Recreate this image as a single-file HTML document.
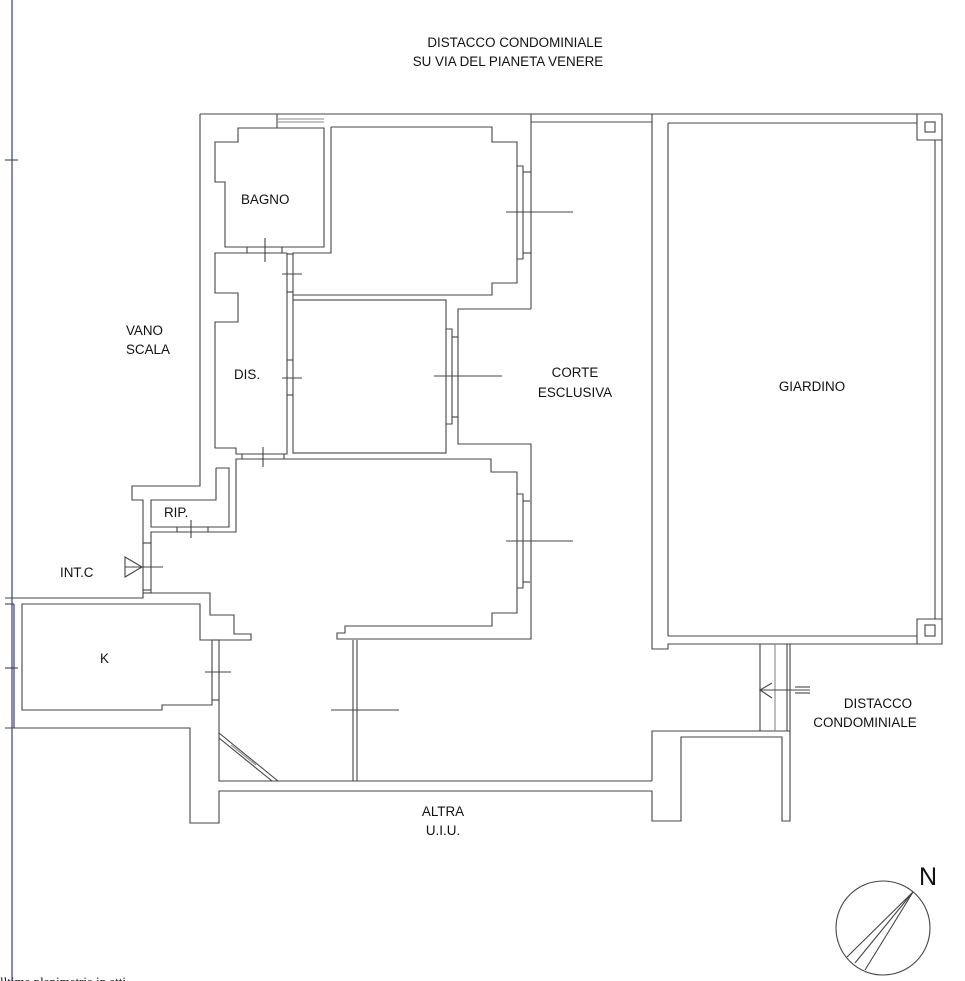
<!DOCTYPE html>
<html><head><meta charset="utf-8"><style>
html,body{margin:0;padding:0;background:#fff;}
svg{display:block;}
text{font-family:"Liberation Sans",sans-serif;font-size:13.4px;fill:#111;}
</style></head><body>
<svg width="965" height="981" viewBox="0 0 965 981" xmlns="http://www.w3.org/2000/svg">
<g fill="none" stroke="#444" stroke-width="1.1">
<line x1="12" y1="0" x2="12" y2="981" stroke="#8a8ab8" stroke-width="2"/>
<line x1="14" y1="604" x2="14" y2="728" stroke="#8a8ab8" stroke-width="2"/>
<line x1="5" y1="160" x2="18" y2="160"/>
<line x1="5" y1="668" x2="18" y2="668"/>
<line x1="5" y1="604" x2="14" y2="604"/>
<line x1="200" y1="114" x2="942" y2="114"/>
<line x1="531" y1="122" x2="652" y2="122" stroke="#888" stroke-width="1.5"/>
<polyline points="200,114 200,486 132,486 132,500 143,500 143,598 5,598"/>
<polygon points="238,128 324,128 324,247 225,247 225,182 215,182 215,142 238,142"/>
<line x1="277" y1="114" x2="277" y2="128"/>
<line x1="277" y1="119" x2="324" y2="119" stroke="#888"/>
<line x1="277" y1="122" x2="324" y2="122" stroke="#888"/>
<line x1="247" y1="247" x2="247" y2="253"/><line x1="282" y1="247" x2="282" y2="253"/>
<line x1="265" y1="238" x2="265" y2="262"/>
<polyline points="331,127 492,127 492,142 517,142 517,283 492,283 492,295 293,295 293,253 331,253 331,127"/>
<line x1="531" y1="114" x2="531" y2="309"/>
<polyline points="531,309 458,309 458,444 531,444 531,639 337,639 337,633 345,633 345,626 492,626 492,613 517,613 517,472 491,472 491,459 236,459 236,532 151,532 151,593 210,593 210,615 234,615 234,634 251,634 251,640 219,640 219,781 652,781"/>
<polyline points="517,166 523,166 523,259 517,259"/>
<line x1="523" y1="172" x2="531" y2="172"/><line x1="523" y1="253" x2="531" y2="253"/>
<line x1="506" y1="212" x2="573" y2="212"/>
<polyline points="287,253 215,253 215,293 238,293 238,322 215,322 215,448 236,448 236,454 287,454 287,253"/>
<line x1="293" y1="295" x2="293" y2="300"/>
<line x1="287" y1="254" x2="293" y2="254"/><line x1="287" y1="292" x2="293" y2="292"/>
<line x1="282" y1="274" x2="302" y2="274"/>
<line x1="287" y1="360" x2="293" y2="360"/><line x1="287" y1="395" x2="293" y2="395"/>
<line x1="282" y1="378" x2="302" y2="378"/>
<line x1="242" y1="454" x2="242" y2="459"/><line x1="284" y1="454" x2="284" y2="459"/>
<line x1="263" y1="447" x2="263" y2="467"/>
<rect x="293" y="300" width="153" height="153"/>
<polyline points="446,329 452,329 452,424 446,424"/>
<line x1="452" y1="337" x2="458" y2="337"/><line x1="452" y1="417" x2="458" y2="417"/>
<line x1="434" y1="376" x2="502" y2="376"/>
<polyline points="517,494 523,494 523,588 517,588"/>
<line x1="523" y1="501" x2="530" y2="501"/><line x1="523" y1="582" x2="530" y2="582"/>
<line x1="506" y1="541" x2="573" y2="541"/>
<polyline points="216,468 229,468 229,527 151,527 151,500 216,500 216,468"/>
<line x1="177" y1="527" x2="177" y2="532"/><line x1="208" y1="527" x2="208" y2="532"/>
<line x1="191" y1="520" x2="191" y2="538"/>
<line x1="143" y1="543" x2="151" y2="543"/><line x1="143" y1="590" x2="151" y2="590"/>
<polygon points="125,557 125,577 142,567"/>
<line x1="125" y1="567" x2="163" y2="567"/>
<line x1="143" y1="593" x2="151" y2="593"/>
<polygon points="22,604 200,604 200,640 212,640 212,705 162,705 162,710 22,710"/>
<line x1="212" y1="640" x2="219" y2="640"/><line x1="212" y1="700" x2="219" y2="700"/>
<line x1="205" y1="672" x2="231" y2="672"/>
<polyline points="5,728 190,728 190,823 219,823 219,791 652,791 652,821 681,821 681,737 782,737 782,821 790,821 790,731 652,731 652,781"/>
<line x1="219" y1="733" x2="278" y2="781"/>
<line x1="219" y1="738" x2="272" y2="781"/>
<line x1="231" y1="745" x2="256" y2="765" stroke="#888"/>
<line x1="353" y1="640" x2="353" y2="781"/><line x1="357" y1="640" x2="357" y2="781"/>
<line x1="331" y1="710" x2="399" y2="710"/>
<polyline points="652,114 652,649 668,649 668,644 942,644 942,114"/>
<polyline points="668,123 917,123"/><line x1="668" y1="123" x2="668" y2="636"/>
<line x1="668" y1="636" x2="917" y2="636"/>
<line x1="935" y1="140" x2="935" y2="619"/>
<polyline points="917,114 917,140 942,140"/>
<rect x="925" y="122" width="10" height="10"/>
<polyline points="917,644 917,619 942,619"/>
<rect x="925" y="625" width="10" height="11"/>
<line x1="760" y1="644" x2="760" y2="731"/>
<line x1="775" y1="644" x2="775" y2="731" stroke="#888"/>
<line x1="787" y1="644" x2="787" y2="731"/>
<line x1="790" y1="644" x2="790" y2="731"/>
<line x1="760" y1="690" x2="810" y2="690"/>
<polyline points="772,683 760,690 772,698"/>
<line x1="795" y1="687" x2="810" y2="687"/><line x1="795" y1="693" x2="810" y2="693"/>
<circle cx="883" cy="928" r="47"/>
<line x1="913" y1="892" x2="847" y2="957"/>
<line x1="913" y1="892" x2="855" y2="963"/>
<line x1="913" y1="892" x2="865" y2="970"/>
</g>
<text x="515" y="47" text-anchor="middle">DISTACCO CONDOMINIALE</text>
<text x="508" y="66" text-anchor="middle">SU VIA DEL PIANETA VENERE</text>
<text x="241" y="204">BAGNO</text>
<text x="126" y="335">VANO</text>
<text x="126" y="354">SCALA</text>
<text x="234" y="379">DIS.</text>
<text x="575" y="377" text-anchor="middle">CORTE</text>
<text x="575" y="397" text-anchor="middle">ESCLUSIVA</text>
<text x="812" y="391" text-anchor="middle">GIARDINO</text>
<text x="164" y="517">RIP.</text>
<text x="60" y="577">INT.C</text>
<text x="100" y="663">K</text>
<text x="878" y="708" text-anchor="middle">DISTACCO</text>
<text x="865" y="727" text-anchor="middle">CONDOMINIALE</text>
<text x="443" y="816" text-anchor="middle">ALTRA</text>
<text x="443" y="835" text-anchor="middle">U.I.U.</text>
<text x="919" y="885" style="font-size:25px">N</text>
<text x="0" y="986" style="font-family:'Liberation Serif',serif;font-size:13px">lltima planimetria in atti</text>
</svg>
</body></html>
